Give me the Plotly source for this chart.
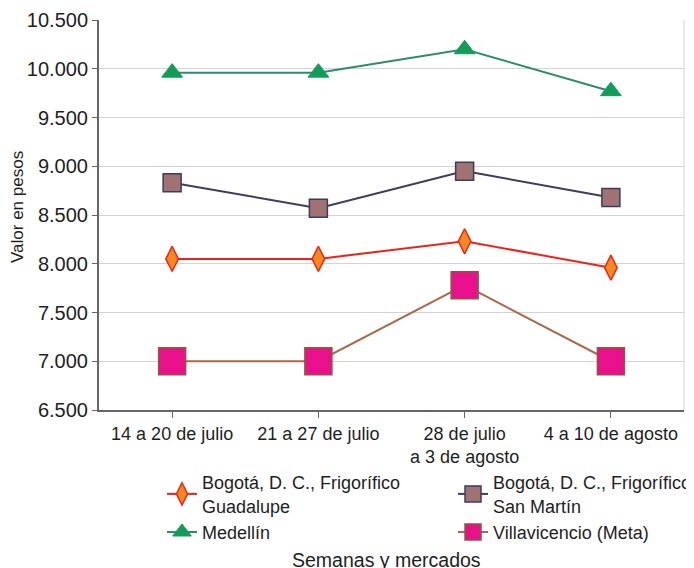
import plotly.graph_objects as go

categories = ["14 a 20 de julio", "21 a 27 de julio", "28 de julio<br>a 3 de agosto", "4 a 10 de agosto"]
guadalupe = [8050, 8050, 8230, 7960]
san_martin = [8830, 8570, 8950, 8680]
medellin = [9960, 9960, 10200, 9770]
villavicencio = [7000, 7000, 7780, 7000]

series_names = ["Bogotá, D. C., Frigorífico<br>Guadalupe", "Bogotá, D. C., Frigorífico<br>San Martín",
                "Medellín", "Villavicencio (Meta)"]

TXT = "#1e1e1e"

fig = go.Figure()
fig.add_trace(go.Scatter(x=categories, y=guadalupe, name=series_names[0], mode="lines+markers",
                         line=dict(color="#e8251c", width=2),
                         marker=dict(symbol="diamond-tall", size=18, color="#f5891f",
                                     line=dict(color="#e8251c", width=1.5))))
fig.add_trace(go.Scatter(x=categories, y=san_martin, name=series_names[1], mode="lines+markers",
                         line=dict(color="#3d3c5e", width=2),
                         marker=dict(symbol="square", size=18, color="#a07272",
                                     line=dict(color="#3d3c5e", width=1.5))))
fig.add_trace(go.Scatter(x=categories, y=medellin, name=series_names[2], mode="lines+markers",
                         line=dict(color="#2e8b6e", width=2),
                         marker=dict(symbol="triangle-up", size=18, color="#129c58",
                                     line=dict(color="#129c58", width=1))))
fig.add_trace(go.Scatter(x=categories, y=villavicencio, name=series_names[3], mode="lines+markers",
                         line=dict(color="#a86a4c", width=2),
                         marker=dict(symbol="square", size=27, color="#e9108c",
                                     line=dict(color="#8b5a3c", width=1.5))))

fig.update_layout(
    width=686, height=560,
    margin=dict(l=91, r=10, t=12, b=158, autoexpand=False),
    paper_bgcolor="white", plot_bgcolor="white",
    separators=",.",
    font=dict(family="Liberation Sans, Arial, sans-serif", size=17, color=TXT),
    showlegend=True,
    legend=dict(orientation="h", x=0.1077, y=-0.1385, xanchor="left", yanchor="top",
                entrywidth=246, entrywidthmode="pixels", font=dict(size=18, color=TXT),
                tracegroupgap=0, itemwidth=30, bgcolor="rgba(0,0,0,0)"),
    xaxis=dict(type="category", range=[-0.5, len(categories) - 0.5],
               showgrid=False, showline=True, linecolor="#666", linewidth=2,
               ticks="outside", ticklen=6, tickcolor="#666", tickwidth=1,
               tickfont=dict(size=18, color=TXT), mirror=False),
    yaxis=dict(range=[6500, 10500], dtick=500, tickformat=",d",
               showgrid=True, gridcolor="#d4d4d4", gridwidth=1,
               showline=True, linecolor="#666", linewidth=2,
               ticks="outside", ticklen=5, tickcolor="#666",
               tickfont=dict(size=20, color=TXT),
               zeroline=False),
    annotations=[
        dict(text="Semanas y mercados", xref="paper", yref="paper",
             x=0.4906, y=-0.3846, xanchor="center", yanchor="middle", showarrow=False,
             font=dict(size=19.5, color=TXT)),
        dict(text="Valor en pesos", xref="paper", yref="paper", textangle=-90,
             x=-0.1402, y=0.5205, xanchor="center", yanchor="middle", showarrow=False,
             font=dict(size=17, color=TXT)),
    ],
    shapes=[dict(type="line", xref="paper", yref="paper", x0=1, x1=1, y0=0, y1=1,
                 line=dict(color="#d4d4d4", width=1))],
)

fig.write_html("out.html")
